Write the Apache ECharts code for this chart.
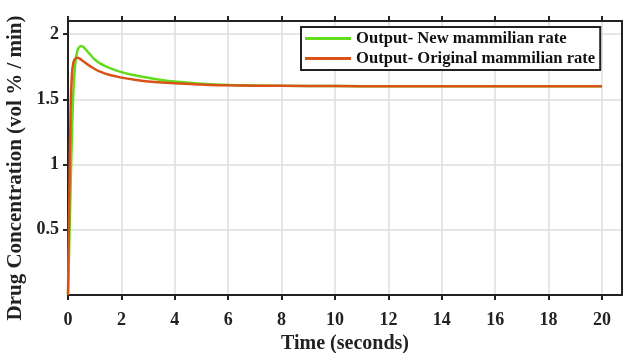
<!DOCTYPE html>
<html>
<head>
<meta charset="utf-8">
<script src="https://cdn.jsdelivr.net/npm/echarts@6/dist/echarts.min.js"></script>
<style>html,body{margin:0;padding:0;background:#fff;}#c{width:625px;height:353px;}</style>
</head>
<body>
<div id="c"></div>
<script>
var seriesNames = ['Output- New mammilian rate', 'Output- Original mammilian rate'];
var xTicks = [0, 2, 4, 6, 8, 10, 12, 14, 16, 18, 20];
var yTicks = [0.5, 1, 1.5, 2];
var newRate = [
  [0,0],[0.05,0.42],[0.1,0.85],[0.15,1.25],[0.2,1.55],[0.25,1.72],[0.3,1.82],[0.35,1.87],
  [0.4,1.895],[0.5,1.908],[0.6,1.897],[0.7,1.874],[0.8,1.85],[0.9,1.826],[1.0,1.805],
  [1.2,1.775],[1.5,1.745],[2,1.708],[2.5,1.684],[3,1.665],[3.5,1.648],[4,1.636],
  [5,1.62],[6,1.61],[7,1.606],[8,1.603],[10,1.601],[12,1.6],[14,1.6],[16,1.6],[18,1.6],[20,1.6]
];
var origRate = [
  [0,0],[0.05,0.75],[0.1,1.45],[0.15,1.7],[0.2,1.78],[0.25,1.805],[0.3,1.815],[0.35,1.818],
  [0.45,1.81],[0.6,1.787],[0.8,1.758],[1.0,1.732],[1.2,1.712],[1.5,1.69],[2,1.666],
  [2.5,1.649],[3,1.637],[4,1.622],[5,1.613],[6,1.607],[8,1.603],[10,1.601],[12,1.6],
  [14,1.6],[16,1.6],[18,1.6],[20,1.6]
];
var FONT = 'Liberation Serif';
var chart = echarts.init(document.getElementById('c'));
var axisLine = {show: true, onZero: false, lineStyle: {color: '#222', width: 2}};
chart.setOption({
  animation: false,
  grid: {left: 68, right: 3, top: 21, bottom: 58, containLabel: false, outerBoundsMode: 'none'},
  legend: {
    orient: 'vertical', left: 301, top: 27, width: 300,
    data: seriesNames,
    backgroundColor: '#fff', borderColor: '#222', borderWidth: 2,
    padding: [3, 5, 3, 4], itemGap: 3,
    itemWidth: 46, itemHeight: 3, icon: 'rect',
    textStyle: {fontFamily: FONT, fontWeight: 'bold', fontSize: 16.6, color: '#111'}
  },
  xAxis: [{
    type: 'value', min: 0, max: 20.75, interval: 2, position: 'bottom',
    name: 'Time (seconds)', nameLocation: 'middle', nameGap: 39,
    nameTextStyle: {fontFamily: FONT, fontWeight: 'bold', fontSize: 20, color: '#222'},
    axisLine: axisLine,
    axisTick: {show: true, inside: false, length: 5, customValues: xTicks, lineStyle: {color: '#222', width: 2}},
    axisLabel: {customValues: xTicks, margin: 16, fontFamily: FONT, fontWeight: 'bold', fontSize: 18, color: '#222'},
    splitLine: {show: true, lineStyle: {color: '#dedede', width: 1.5}}
  }, {
    type: 'value', min: 0, max: 20.75, interval: 2, position: 'top',
    axisLine: axisLine,
    axisTick: {show: true, inside: false, length: 5, customValues: xTicks, lineStyle: {color: '#222', width: 2}},
    axisLabel: {show: false},
    splitLine: {show: false}
  }],
  yAxis: [{
    type: 'value', min: 0, max: 2.1, interval: 0.5, position: 'left',
    name: 'Drug Concentration (vol % / min)', nameLocation: 'middle', nameGap: 40,
    nameTextStyle: {fontFamily: FONT, fontWeight: 'bold', fontSize: 21, color: '#222', padding: [0, 20, 0, 0]},
    axisLine: axisLine,
    axisTick: {show: true, inside: false, length: 5, customValues: yTicks, lineStyle: {color: '#222', width: 2}},
    axisLabel: {customValues: yTicks, margin: 9, fontFamily: FONT, fontWeight: 'bold', fontSize: 18, color: '#222'},
    splitLine: {show: true, lineStyle: {color: '#dedede', width: 1.5}}
  }, {
    type: 'value', min: 0, max: 2.1, interval: 0.5, position: 'right',
    axisLine: axisLine, axisTick: {show: false}, axisLabel: {show: false}, splitLine: {show: false}
  }],
  series: [{
    name: seriesNames[0], type: 'line', data: newRate, showSymbol: false, symbol: 'none',
    smooth: 0.4, lineStyle: {color: '#62dc1c', width: 2.5}, itemStyle: {color: '#62dc1c'}
  }, {
    name: seriesNames[1], type: 'line', data: origRate, showSymbol: false, symbol: 'none',
    smooth: 0.4, lineStyle: {color: '#d95319', width: 2.5}, itemStyle: {color: '#d95319'}
  }]
});
</script>
</body>
</html>
